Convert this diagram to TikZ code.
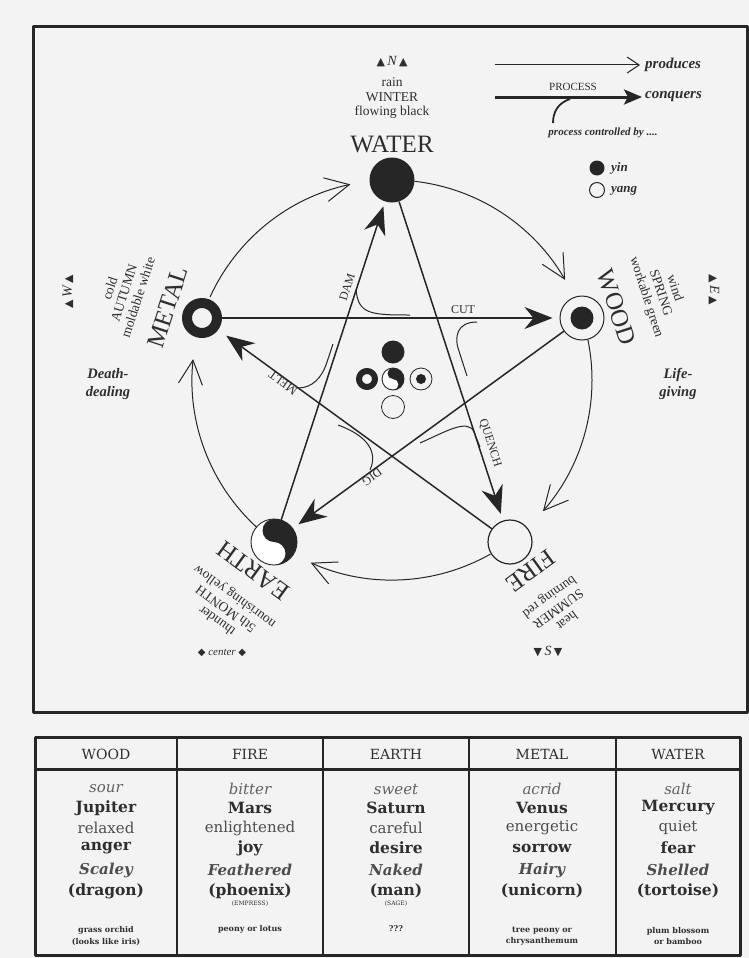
\documentclass[tikz,border=0pt]{standalone}
\usepackage{fontspec}
\setmainfont{Liberation Serif}
\newfontfamily\tabfont{DejaVu Serif}
\newfontfamily\symfont{DejaVu Sans}
\usetikzlibrary{arrows.meta}
\newcommand\fsz[1]{\fontsize{#1}{#1}\selectfont}
\newcommand\lsz[2]{\fontsize{#1}{#2}\selectfont}
\definecolor{ink}{HTML}{262626}
\definecolor{paper}{HTML}{F3F3F3}
\definecolor{txt}{HTML}{2E2E2E}
\newcommand\tri{{\symfont\fsz{11}▲}}
\newcommand\dtri{{\symfont\fsz{11}▼}}
\newcommand\dia{{\symfont\fsz{10}◆}}
\newcommand\elgroup[6]{%
  \begin{scope}[shift={(392,380)}, rotate=#1, transform shape]
    \node[elname] (#2name) at (0,-236) {#3};
    \node[eldesc] (#2desc) at (0,-282) {#4\\#5\\#6};
  \end{scope}}
\newcommand\yinyang[3]{%
  \begin{scope}[shift={(#1,#2)}]
    \fill[white] (0,0) circle[radius=#3];
    \fill[ink] (0,-#3) arc[start angle=-90, end angle=90, radius=#3]
      arc[start angle=90, end angle=-90, radius=#3/2]
      arc[start angle=90, end angle=270, radius=#3/2] -- cycle;
    \draw[ink, line width=0.9pt] (0,0) circle[radius=#3];
  \end{scope}}
\newcommand\tcol[9]{%
  \node[tsm] (#2r1) at (#1,789) {#3};
  \node[tbd] (#2r2) at (#1,808) {#4};
  \node[trg] (#2r3) at (#1,828) {#5};
  \node[tbd] (#2r4) at (#1,848) {#6};
  \node[tit] (#2r5) at (#1,870) {#7};
  \node[tbd] (#2r6) at (#1,891) {#8};
  \node[tbot] (#2r8) at (#1,936) {#9};}
\tikzset{
  prod/.style={draw=ink, line width=1pt, -{Straight Barb[length=24pt, width=24pt, line width=1pt]}},
  conq/.style={draw=ink, line width=1.5pt, -{Stealth[length=28pt, width=22pt, inset=9pt]}, shorten >=7pt},
  ctrl/.style={draw=ink, line width=1pt},
  lbl/.style={font=\fsz{12}, text=txt, inner sep=0pt},
  elname/.style={font=\fsz{25}, text=txt, inner sep=0pt},
  eldesc/.style={font=\lsz{13.5}{14.8}, text=txt, align=center, inner sep=0pt},
  note/.style={font=\bfseries\itshape\lsz{14.5}{18}, text=txt, align=center, inner sep=0pt},
  legtxt/.style={font=\bfseries\itshape\fsz{15}, text=txt, inner sep=0pt, anchor=west},
  compass/.style={font=\itshape\fsz{14}, text=txt, inner sep=0pt},
  thead/.style={font=\tabfont\fsz{14}, text=txt, inner sep=0pt},
  tsm/.style={font=\tabfont\fsz{15}\itshape, text=txt!75, inner sep=0pt},
  tbd/.style={font=\tabfont\fsz{15.5}\bfseries, text=txt, inner sep=0pt},
  trg/.style={font=\tabfont\fsz{15}, text=txt!85, inner sep=0pt},
  tit/.style={font=\tabfont\fsz{15}\bfseries\itshape, text=txt!85, inner sep=0pt},
  tbot/.style={font=\tabfont\bfseries\lsz{8}{11.5}, text=txt, align=center, inner sep=0pt},
  ttiny/.style={font=\tabfont\fsz{6}, text=txt, inner sep=0pt},
}
\begin{document}
\begin{tikzpicture}[x=1pt, y=-1pt, line join=round]
\path[use as bounding box, fill=paper] (0,0) rectangle (749,958);
\clip (0,0) rectangle (749,958);

% frames
\draw[ink, line width=3pt] (33,27) rectangle (747,712);

% element labels
\elgroup{0}{water}{WATER}{rain}{WINTER}{flowing black}
\elgroup{-72}{wood}{WOOD}{wind}{SPRING}{workable green}
\elgroup{-144}{fire}{FIRE}{heat}{SUMMER}{burning red}
\elgroup{-216}{earth}{EARTH}{thunder}{5th MONTH}{nourishing yellow}
\elgroup{-288}{metal}{METAL}{cold}{AUTUMN}{moldable white}

% compass
\node[compass] (north) at (392,62) {\tri\,N\,\tri};
\node[compass, rotate=-90] (east) at (714,290) {\tri\,E\,\tri};
\node[compass] (south) at (548,652) {\dtri\,S\,\dtri};
\node[compass, rotate=90] (west) at (68,292) {\tri\,W\,\tri};
\node[compass, font=\itshape\fsz{11}] (centre) at (222,653) {\dia\ center \dia};

\node[note] (death) at (108,384) {Death-\\dealing};
\node[note] (life) at (678,384) {Life-\\giving};

% elements
\node[circle, fill=ink, minimum size=45pt, inner sep=0pt] (water) at (392,180) {};
\node[circle, draw=ink, line width=1pt, minimum size=44pt, inner sep=0pt] (wood) at (582,318) {};
\node[circle, fill=ink, minimum size=23pt, inner sep=0pt] (woodcore) at (wood.center) {};
\node[circle, draw=ink, line width=1.2pt, minimum size=44pt, inner sep=0pt] (fire) at (510,542) {};
\yinyang{274}{542}{23}
\node[circle, minimum size=46pt, inner sep=0pt] (earth) at (274,542) {};
\node[circle, draw=ink, line width=10pt, minimum size=30pt, inner sep=0pt] (metal) at (202,318) {};

% center cluster
\node[circle, fill=ink, minimum size=23pt, inner sep=0pt] (cwater) at (393,352) {};
\node[circle, draw=ink, line width=6pt, minimum size=16pt, inner sep=0pt] (cmetal) at (367,379) {};
\yinyang{393}{379}{11}
\node[circle, draw=ink, line width=0.8pt, minimum size=22pt, inner sep=0pt] (cwood) at (421,379) {};
\node[circle, fill=ink, minimum size=10pt, inner sep=0pt] (cwoodcore) at (cwood.center) {};
\node[circle, draw=ink, line width=0.8pt, minimum size=23pt, inner sep=0pt] (cfire) at (393,407) {};

% produces cycle
\coordinate (C) at (392,380);
\foreach \s/\e/\n in {-83.5/-30/1, -11.5/41/2, 60.5/114/3, 132.5/186/4, 204.5/258/5} {
  \path (C) ++(\s:200) coordinate (arc\n);
  \draw[prod] (arc\n) arc[start angle=\s, end angle=\e, radius=200];
}

% conquers star
\draw[conq, shorten >=5pt] (earth) -- (water);
\draw[conq] (metal) -- (wood);
\draw[conq] (water) -- (fire);
\draw[conq, shorten >=10pt] (fire) -- (metal);
\draw[conq] (wood) -- (earth);

% labels on lines
\node[lbl, rotate=72] (dam) at (347,287) {DAM};
\node[lbl] (cut) at (463,310) {CUT};
\node[lbl, rotate=-72] (quench) at (490,443) {QUENCH};
\node[lbl, rotate=144] (melt) at (283,383) {MELT};
\node[lbl, rotate=216] (dig) at (372,477) {DIG};

% control curves
\draw[ctrl] (356,289) .. controls (358,314) and (370,315) .. (410,315);
\draw[ctrl] (477,322) .. controls (456,322) and (455,338) .. (458,348) -- (467,376);
\draw[ctrl] (298,388) .. controls (312,388) and (322,378) .. (327,362) -- (333,344);
\draw[ctrl] (420,443) .. controls (445,432) and (468,418) .. (474,432) -- (480,447);
\draw[ctrl] (338,425) .. controls (368,436) and (378,452) .. (370,470);

% legend
\coordinate (lp1) at (495,65); \coordinate (lp2) at (640,65);
\draw[draw=ink, line width=1pt, -{Straight Barb[length=12pt, width=16pt, line width=1pt]}] (lp1) -- (lp2);
\node[legtxt] (produces) at (645,65) {produces};
\coordinate (lc1) at (495,97); \coordinate (lc2) at (642,97);
\draw[draw=ink, line width=3pt, -{Stealth[length=18pt, width=15pt, inset=4pt]}] (lc1) -- (lc2);
\node[lbl, font=\fsz{11}] (process) at (573,87) {PROCESS};
\node[legtxt] (conquers) at (645,97) {conquers};
\draw[ink, line width=1.8pt] (570,99) .. controls (558,103) and (553,112) .. (553,123);
\node[legtxt, anchor=center, font=\bfseries\itshape\fsz{11}] (pcb) at (603,133) {process controlled by ....};
\node[circle, fill=ink, minimum size=15pt, inner sep=0pt] (yindot) at (597,168) {};
\node[legtxt, font=\bfseries\itshape\fsz{13}] (yin) at (611,168) {yin};
\node[circle, draw=ink, line width=1pt, minimum size=15pt, inner sep=0pt] (yangdot) at (597,190) {};
\node[legtxt, font=\bfseries\itshape\fsz{13}] (yang) at (611,191) {yang};

% table
\draw[ink, line width=3pt] (35,737) rectangle (740,955);
\draw[ink, line width=3pt] (35,769) -- (740,769);
\foreach \x in {177,323,469,616} \draw[ink, line width=2pt] (\x,737) -- (\x,955);
\node[thead] (hwood) at (106,754) {WOOD};
\node[thead] (hfire) at (250,754) {FIRE};
\node[thead] (hearth) at (396,754) {EARTH};
\node[thead] (hmetal) at (542,754) {METAL};
\node[thead] (hwater) at (678,754) {WATER};
\tcol{106}{w}{sour}{Jupiter}{relaxed}{anger}{Scaley}{(dragon)}{grass orchid\\(looks like iris)}
\tcol{250}{f}{bitter}{Mars}{enlightened}{joy}{Feathered}{(phoenix)}{peony or lotus\\\strut}
\tcol{396}{e}{sweet}{Saturn}{careful}{desire}{Naked}{(man)}{???\\\strut}
\tcol{542}{m}{acrid}{Venus}{energetic}{sorrow}{Hairy}{(unicorn)}{tree peony or\\chrysanthemum}
\tcol{678}{a}{salt}{Mercury}{quiet}{fear}{Shelled}{(tortoise)}{plum blossom\\or bamboo}
\node[ttiny] (empress) at (250,904) {(EMPRESS)};
\node[ttiny] (sage) at (396,904) {(SAGE)};
\end{tikzpicture}
\end{document}
